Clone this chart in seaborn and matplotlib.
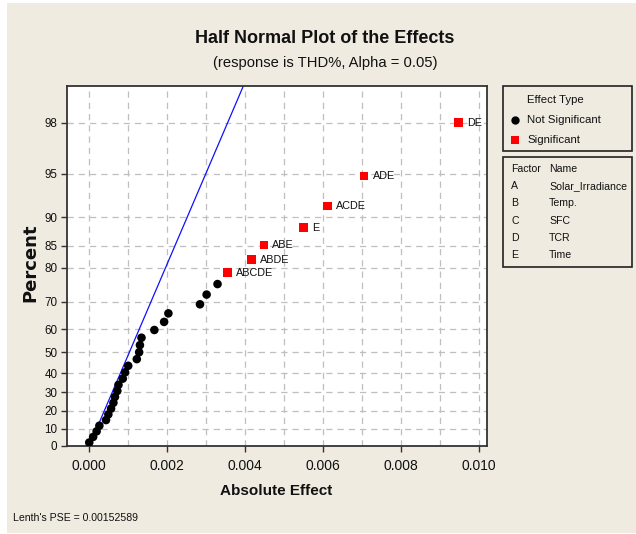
import numpy as np
import pandas as pd
import matplotlib
matplotlib.use("Agg")
import matplotlib.pyplot as plt
from matplotlib.patches import Rectangle
from matplotlib.lines import Line2D
from matplotlib.ticker import FormatStrFormatter
import seaborn as sns
from statistics import NormalDist

# ---- data -------------------------------------------------------------
# absolute effects that are not significant, in rank order
ns_effects = [0.00000, 0.00010, 0.00019, 0.00026, 0.00043, 0.00049, 0.00056,
              0.00062, 0.00066, 0.00072, 0.00075, 0.00086, 0.00092, 0.00100,
              0.00122, 0.00128, 0.00130, 0.00134, 0.00167, 0.00192, 0.00203,
              0.00284, 0.00301, 0.00329]
ns_percent = [2.0, 5.2, 8.4, 11.6, 14.8, 18.0, 21.2, 24.4, 27.6, 30.8, 34.0,
              37.2, 40.4, 43.6, 46.8, 50.0, 53.2, 56.4, 59.6, 62.8, 66.0,
              69.2, 72.4, 75.6]

# significant effects
sig_terms = ["ABCDE", "ABDE", "ABE", "E", "ACDE", "ADE", "DE"]
sig_effects = [0.00354, 0.00416, 0.00448, 0.00549, 0.00611, 0.00705, 0.00947]
sig_percent = [78.8, 82.0, 85.2, 88.4, 91.6, 94.8, 98.0]

lenth_pse = 0.00152589

y_ticks = [0, 10, 20, 30, 40, 50, 60, 70, 80, 85, 90, 95, 98]
x_ticks = [0.000, 0.002, 0.004, 0.006, 0.008, 0.010]

factors = ["A", "B", "C", "D", "E"]
factor_names = ["Solar_Irradiance", "Temp.", "SFC", "TCR", "Time"]

# ---- styling ----------------------------------------------------------
sns.set_theme(style="white")
plt.rcParams["font.family"] = ["Liberation Sans", "DejaVu Sans"]

W, H = 636, 534
BEIGE = "#EFEBE1"
GRID = "#BFBFBF"
INK = "#111111"


def fx(x):
    return x / W


def fy(y):
    return 1 - y / H


nd = NormalDist()
_q = np.vectorize(lambda v: nd.inv_cdf(0.5 + abs(v) / 200.0), otypes=[float])
_c = np.vectorize(lambda v: 200.0 * (nd.cdf(v) - 0.5), otypes=[float])


def _fwd(p):
    p = np.clip(np.asarray(p, dtype=float), -99.9999, 99.9999)
    return np.sign(p) * _q(p)


def _inv(z):
    return _c(np.asarray(z, dtype=float))


df = pd.DataFrame({
    "effect": ns_effects + sig_effects,
    "percent": ns_percent + sig_percent,
    "type": ["Not Significant"] * len(ns_effects) + ["Significant"] * len(sig_effects),
})

fig = plt.figure(figsize=(W / 100, H / 100), dpi=100, facecolor="white")
fig.add_artist(Rectangle((fx(7), fy(533)), (W - 7) / W, (533 - 3) / H,
                         transform=fig.transFigure, facecolor=BEIGE,
                         edgecolor="none", zorder=-10))

ax = fig.add_axes([fx(67), fy(446), (487 - 67) / W, (446 - 86) / H])
ax.set_facecolor("white")
ax.set_yscale("function", functions=(_fwd, _inv))

# Lenth's PSE reference line through the origin
z = np.linspace(0, 2.8, 60)
line_df = pd.DataFrame({"x": lenth_pse * z, "y": _inv(z)})
sns.lineplot(data=line_df, x="x", y="y", color="#1010FF", lw=0.9,
             sort=False, ax=ax, zorder=2)

sns.scatterplot(data=df, x="effect", y="percent", hue="type", style="type",
                palette={"Not Significant": "black", "Significant": "#FF0000"},
                markers={"Not Significant": "o", "Significant": "s"},
                s=38, linewidth=0, legend=False, ax=ax, zorder=3)

for term, xe, yp in zip(sig_terms, sig_effects, sig_percent):
    ax.annotate(term, (xe, yp), xytext=(6, 0), textcoords="offset points",
                ha="left", va="center", fontsize=7.8, color=INK)

ax.set_xlim(-0.00057, 0.0102)
ax.set_ylim(0, 99.04)
ax.set_yticks(y_ticks)
ax.set_yticklabels([str(t) for t in y_ticks])
ax.set_xticks(x_ticks)
ax.set_xticks([0.001, 0.003, 0.005, 0.007, 0.009], minor=True)
ax.xaxis.set_major_formatter(FormatStrFormatter("%.3f"))
ax.set_xlabel("")
ax.set_ylabel("")

ax.grid(True, which="both", axis="x", linestyle=(0, (5, 4)), color=GRID, lw=0.9)
ax.grid(True, which="major", axis="y", linestyle=(0, (5, 4)), color=GRID, lw=0.9)
ax.set_axisbelow(True)
ax.tick_params(axis="x", which="major", direction="out", length=4, width=1,
               color="#333333", labelsize=10, labelcolor=INK, pad=5, bottom=True)
ax.tick_params(axis="x", which="minor", length=0)
ax.tick_params(axis="y", which="major", direction="out", length=4, width=1,
               color="#333333", labelsize=8.4, labelcolor=INK, pad=3, left=True)
ax.tick_params(axis="y", which="minor", length=0, left=False)
for sp in ax.spines.values():
    sp.set_color("#333333")
    sp.set_linewidth(1.3)

# titles and axis labels
fig.text(fx(325), fy(43), "Half Normal Plot of the Effects", ha="center",
         va="baseline", fontsize=13, fontweight="bold", color=INK)
fig.text(fx(325), fy(67), "(response is THD%, Alpha = 0.05)", ha="center",
         va="baseline", fontsize=10.6, color=INK)
fig.text(fx(276), fy(495), "Absolute Effect", ha="center", va="baseline",
         fontsize=11, fontweight="bold", color=INK)
fig.text(fx(30), fy(263), "Percent", ha="center", va="center", rotation=90,
         fontsize=13, fontweight="bold", color=INK,
         family=["DejaVu Sans"])
fig.text(fx(13), fy(521), "Lenth's PSE = 0.00152589", ha="left",
         va="baseline", fontsize=7.6, color=INK)

# effect type key
fig.add_artist(Rectangle((fx(503), fy(151)), (632 - 503) / W, (151 - 86) / H,
                         transform=fig.transFigure, fill=False,
                         edgecolor="#222222", lw=1.2))
fig.text(fx(527), fy(100), "Effect Type", ha="left", va="center",
         fontsize=8.2, color=INK)
fig.add_artist(Line2D([fx(515)], [fy(120)], marker="o", markersize=6,
                      color="black", markeredgewidth=0, linestyle="none",
                      transform=fig.transFigure))
fig.text(fx(527), fy(120), "Not Significant", ha="left", va="center",
         fontsize=8.2, color=INK)
fig.add_artist(Line2D([fx(515)], [fy(140)], marker="s", markersize=6,
                      color="#FF0000", markeredgewidth=0, linestyle="none",
                      transform=fig.transFigure))
fig.text(fx(527), fy(140), "Significant", ha="left", va="center",
         fontsize=8.2, color=INK)

# factor name table
fig.add_artist(Rectangle((fx(503), fy(267)), (632 - 503) / W, (267 - 157) / H,
                         transform=fig.transFigure, fill=False,
                         edgecolor="#222222", lw=1.2))
fig.text(fx(511), fy(169), "Factor", ha="left", va="center", fontsize=7.6,
         color=INK)
fig.text(fx(549), fy(169), "Name", ha="left", va="center", fontsize=7.6,
         color=INK)
row_y = [186, 203.5, 221, 238, 255]
for f, name, yy in zip(factors, factor_names, row_y):
    fig.text(fx(511), fy(yy), f, ha="left", va="center", fontsize=7.6,
             color=INK)
    fig.text(fx(549), fy(yy), name, ha="left", va="center", fontsize=7.6,
             color=INK)

fig.savefig("out.png", dpi=100, facecolor=fig.get_facecolor())
